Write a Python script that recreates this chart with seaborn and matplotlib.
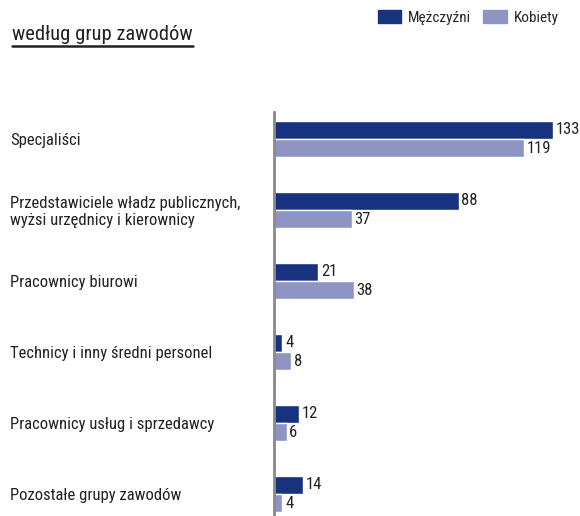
import matplotlib
matplotlib.use("Agg")
import matplotlib.pyplot as plt
import seaborn as sns
import pandas as pd
from matplotlib import font_manager as fm
from matplotlib.lines import Line2D

categories = [
    "Specjaliści",
    "Przedstawiciele władz publicznych,\nwyżsi urzędnicy i kierownicy",
    "Pracownicy biurowi",
    "Technicy i inny średni personel",
    "Pracownicy usług i sprzedawcy",
    "Pozostałe grupy zawodów",
]
men = [133, 88, 21, 4, 12, 14]
women = [119, 37, 38, 8, 6, 4]
series_names = ["Mężczyźni", "Kobiety"]
colors = ["#17337f", "#8f95c3"]

df = pd.DataFrame({
    "grupa": categories * 2,
    "liczba": men + women,
    "płeć": [series_names[0]] * len(categories) + [series_names[1]] * len(categories),
})

sns.set_style("white")
available = {f.name for f in fm.fontManager.ttflist}
preferred = ["Roboto Condensed", "Open Sans Condensed", "PT Sans Narrow",
             "Archivo Narrow", "Asap Condensed", "Barlow Semi Condensed"]
family = next((f for f in preferred if f in available), "DejaVu Sans")
plt.rcParams["font.family"] = [family, "DejaVu Sans"]

fig = plt.figure(figsize=(5.8, 5.16), dpi=100)
W, H = 580, 516
ax = fig.add_axes([274 / W, 0, (560 - 274) / W, (516 - 112) / H])

sns.barplot(data=df, y="grupa", x="liczba", hue="płeć", order=categories,
            hue_order=series_names, palette=colors, orient="h",
            width=0.51, saturation=1, ax=ax, legend=False)

ax.set_xlim(0, (560 - 274) / 2.098)
ax.set_ylim(5.31, -0.38)
ax.set_xlabel("")
ax.set_ylabel("")
ax.set_xticks([])

for cont in ax.containers:
    for t in ax.bar_label(cont, padding=2, fontsize=12, color="#222222"):
        t.set_clip_on(False)

for s in ["top", "right", "bottom"]:
    ax.spines[s].set_visible(False)
ax.spines["left"].set_color("#8a8a8a")
ax.spines["left"].set_linewidth(2)

ax.tick_params(axis="y", length=0, pad=190)
for lab in ax.get_yticklabels():
    lab.set_horizontalalignment("left")
    lab.set_fontsize(12)
    lab.set_color("#222222")
    lab.set_linespacing(1.15)

# title with underline
title = fig.text(12 / W, 1 - 34 / H, "według grup zawodów", fontsize=14.8,
                 color="#222222", va="center", ha="left")
fig.canvas.draw()
bb = title.get_window_extent()
fig.add_artist(Line2D([bb.x0 / W, bb.x1 / W], [1 - 45.5 / H, 1 - 45.5 / H],
                      color="#222222", linewidth=1.8, transform=fig.transFigure))

handles = [plt.Rectangle((0, 0), 1, 1, color=c) for c in colors]
fig.legend(handles, series_names, loc="upper right", bbox_to_anchor=(559 / W, 1 - 10 / H),
           ncol=2, frameon=False, fontsize=11, handlelength=1.55, handleheight=0.95,
           handletextpad=0.45, columnspacing=0.8, borderpad=0, borderaxespad=0)

fig.savefig("out.png", dpi=100)
